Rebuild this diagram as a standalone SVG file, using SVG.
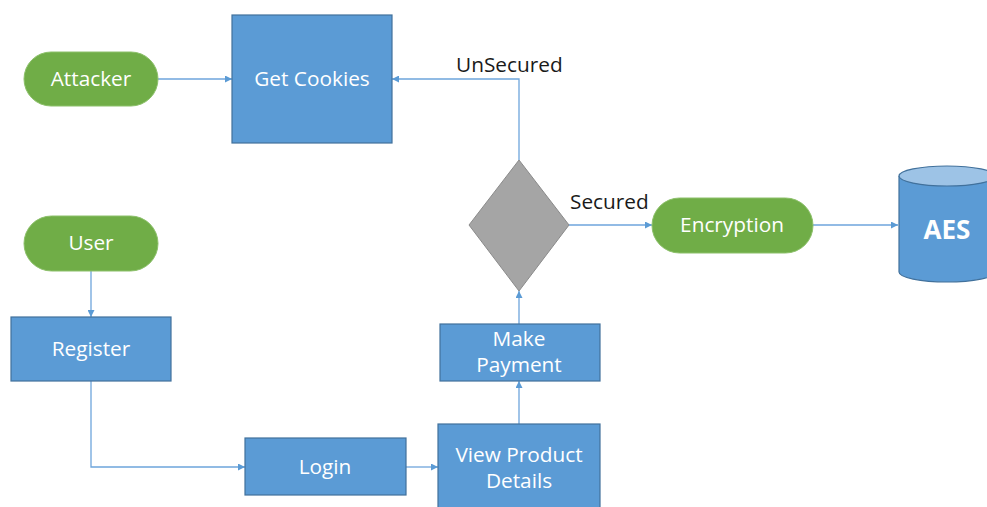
<svg xmlns="http://www.w3.org/2000/svg" width="987" height="507" viewBox="0 0 987 507">
<defs>
<style>
.box{fill:#5b9bd5;stroke:#41719c;stroke-width:1.2}
.pill{fill:#70ad47;stroke:#8cc06a;stroke-width:1}
.dia{fill:#a5a5a5;stroke:#8a8a8a;stroke-width:1}
.t{font-family:"Open Sans","Noto Sans",sans-serif;font-size:20.8px;fill:#ffffff;text-anchor:middle}
.lbl{font-family:"Open Sans","Noto Sans",sans-serif;font-size:20.8px;fill:#1a1a1a}
.big{font-family:"Open Sans","Noto Sans",sans-serif;font-size:26px;font-weight:bold;fill:#ffffff;text-anchor:middle}
.c{fill:none;stroke:#6ea5dc;stroke-width:1.3;marker-end:url(#ah)}
</style>
<marker id="ah" viewBox="0 0 10 10" refX="10" refY="5" markerWidth="8" markerHeight="7" markerUnits="userSpaceOnUse" orient="auto">
<path d="M0,0 L10,5 L0,10 z" fill="#5b9bd5"/>
</marker>
</defs>
<rect width="987" height="507" fill="#ffffff"/>
<g id="connectors">
<path class="c" d="M158,79 H232"/>
<path class="c" d="M519,160 V79 H392"/>
<path class="c" d="M569,225 H652"/>
<path class="c" d="M813,225 H898"/>
<path class="c" d="M91,271 V317"/>
<path class="c" d="M91,381 V467 H245"/>
<path class="c" d="M406,467 H438"/>
<path class="c" d="M519,424 V381"/>
<path class="c" d="M519,324 V291"/>
<text class="lbl" x="456" y="72">UnSecured</text>
<text class="lbl" x="570" y="209">Secured</text>
</g>
<g id="attacker">
<rect class="pill" x="24" y="52" width="134" height="54" rx="27"/>
<text class="t" x="91" y="86">Attacker</text>
</g>
<g id="get-cookies">
<rect class="box" x="232" y="15" width="160" height="128"/>
<text class="t" x="312" y="86">Get Cookies</text>
</g>
<g id="decision">
<polygon class="dia" points="519,160 569,225 519,291 469,225"/>
</g>
<g id="encryption">
<rect class="pill" x="652" y="198" width="161" height="55" rx="27.5"/>
<text class="t" x="732" y="232">Encryption</text>
</g>
<g id="aes">
<path class="box" d="M899,176 V272 A48,10 0 0 0 995,272 V176"/>
<ellipse cx="947" cy="176" rx="48" ry="10" fill="#9dc3e6" stroke="#41719c" stroke-width="1.2"/>
<text class="big" x="947" y="239">AES</text>
</g>
<g id="user">
<rect class="pill" x="24" y="216" width="134" height="55" rx="27.5"/>
<text class="t" x="91" y="250">User</text>
</g>
<g id="register">
<rect class="box" x="11" y="317" width="160" height="64"/>
<text class="t" x="91" y="356">Register</text>
</g>
<g id="login">
<rect class="box" x="245" y="438" width="161" height="57"/>
<text class="t" x="325" y="474">Login</text>
</g>
<g id="view-product">
<rect class="box" x="438" y="424" width="162" height="84"/>
<text class="t" x="519" y="462">View Product</text>
<text class="t" x="519" y="488">Details</text>
</g>
<g id="make-payment">
<rect class="box" x="440" y="324" width="160" height="57"/>
<text class="t" x="519" y="346">Make</text>
<text class="t" x="519" y="372">Payment</text>
</g>
</svg>
